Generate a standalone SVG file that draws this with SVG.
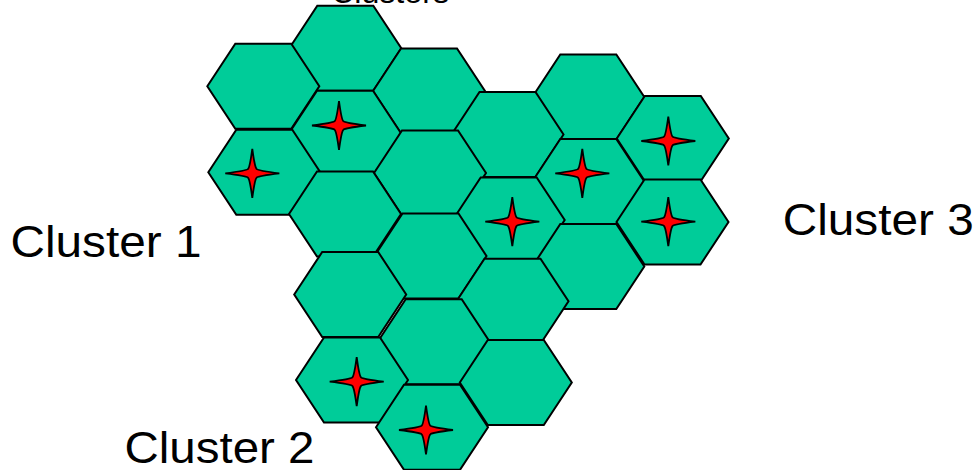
<svg xmlns="http://www.w3.org/2000/svg" width="979" height="470" viewBox="0 0 979 470">
<defs>
<style>
.hex{fill:#00CC99;stroke:#000;stroke-width:2;stroke-linejoin:miter}
.star{fill:#FF0000;stroke:#000;stroke-width:1.8;stroke-linejoin:miter}
.lbl{font-family:"Liberation Sans",Arial,sans-serif;font-size:44px;fill:#000}
</style>
<path id="hex" d="M-56,0 L-28,-42.5 L28,-42.5 L56,0 L28,42.5 L-28,42.5 Z"/>
<path id="star" d="M0,-24.5 Q2.5,-6 4.3,-4.3 Q6,-2.5 27,0 Q6,2.5 4.3,4.3 Q2.5,6 0,24.5 Q-2.5,6 -4.3,4.3 Q-6,2.5 -27,0 Q-6,-2.5 -4.3,-4.3 Q-2.5,-6 0,-24.5 Z"/>
</defs>
<rect width="979" height="470" fill="#fff"/>
<g id="cells">
<g id="hexA"><use href="#hex" class="hex" x="345.3" y="48.2"/></g>
<g id="hexB"><use href="#hex" class="hex" x="263.3" y="86.2"/></g>
<g id="hexC"><use href="#hex" class="hex" x="429" y="91"/></g>
<g id="hexJ"><use href="#hex" class="hex" x="588.3" y="97"/></g>
<g id="hexD"><use href="#hex" class="hex" x="345" y="133.3"/><use href="#star" class="star" x="339" y="125.5"/></g>
<g id="hexH"><use href="#hex" class="hex" x="507.5" y="134.5"/></g>
<g id="hexK"><use href="#hex" class="hex" x="672.8" y="138.5"/><use href="#star" class="star" x="668.3" y="141"/></g>
<g id="hexE"><use href="#hex" class="hex" x="264.3" y="172.2"/><use href="#star" class="star" x="252.3" y="173.3"/></g>
<g id="hexI"><use href="#hex" class="hex" x="430" y="173"/></g>
<g id="hexM"><use href="#hex" class="hex" x="588.3" y="181.5"/><use href="#star" class="star" x="582.3" y="173.3"/></g>
<g id="hexF"><use href="#hex" class="hex" x="345" y="214"/></g>
<g id="hexO"><use href="#hex" class="hex" x="508.7" y="220"/><use href="#star" class="star" x="512.3" y="221.7"/></g>
<g id="hexL"><use href="#hex" class="hex" x="672.5" y="222"/><use href="#star" class="star" x="668.3" y="221.7"/></g>
<g id="hexQ"><use href="#hex" class="hex" x="430.5" y="256"/></g>
<g id="hexN"><use href="#hex" class="hex" x="588.3" y="266.5"/></g>
<g id="hexP"><use href="#hex" class="hex" x="350.2" y="294.5"/></g>
<g id="hexR"><use href="#hex" class="hex" x="512.5" y="301.3"/></g>
<g id="hexS"><use href="#hex" class="hex" x="433.7" y="341.7"/></g>
<g id="hexT"><use href="#hex" class="hex" x="352" y="380"/><use href="#star" class="star" x="356.7" y="381.7"/></g>
<g id="hexU"><use href="#hex" class="hex" x="515.8" y="382.5"/></g>
<g id="hexV"><use href="#hex" class="hex" x="432" y="427.3"/><use href="#star" class="star" x="426" y="430"/></g>
</g>
<g id="connectors"/>
<g id="labels">
<text class="lbl" x="331" y="2.5" style="font-size:31px" textLength="118" lengthAdjust="spacingAndGlyphs">Clusters</text>
<text id="cluster1" class="lbl" x="10.5" y="257" textLength="191" lengthAdjust="spacingAndGlyphs">Cluster 1</text>
<text id="cluster3" class="lbl" x="782.7" y="235" textLength="191" lengthAdjust="spacingAndGlyphs">Cluster 3</text>
<text id="cluster2" class="lbl" x="124.5" y="463" textLength="190" lengthAdjust="spacingAndGlyphs">Cluster 2</text>
</g>
</svg>
